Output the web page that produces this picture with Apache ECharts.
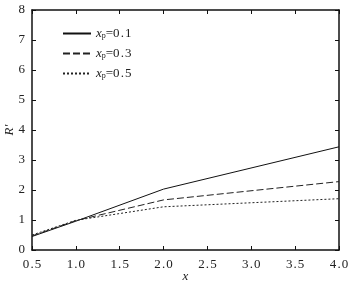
<!DOCTYPE html>
<html>
<head>
<meta charset="utf-8">
<script src="https://cdn.jsdelivr.net/npm/echarts@6/dist/echarts.min.js"></script>
<style>
  html, body { margin: 0; padding: 0; background: #fff; }
  #main { width: 348px; height: 282px; }
</style>
</head>
<body>
<div id="main"></div>
<script>
// data
const xValues = [0.5, 1.0, 2.0, 4.0]
const xp01 = [0.45, 0.96, 2.03, 3.44]
const xp03 = [0.47, 0.98, 1.67, 2.28]
const xp05 = [0.5, 0.99, 1.44, 1.71]
const seriesNames = ['0.1', '0.3', '0.5']

const font = '"Liberation Serif", "Times New Roman", serif'
const axisColor = '#111'
const spaced = s => s.split('').join('\u200a')

function pairs(ys) {
    return xValues.map((x, i) => [x, ys[i]])
}

function makeLine(name, ys, dash, color) {
    return {
        name: name,
        type: 'line',
        data: pairs(ys),
        showSymbol: false,
        symbol: 'none',
        lineStyle: { width: 1, color: color, type: dash },
        itemStyle: { color: color },
        animation: false
    }
}

// 边框四条轴
function boxAxis(extra) {
    return Object.assign({
        type: 'value',
        nameMoveOverlap: false,
        axisLine: { show: true, onZero: false, lineStyle: { color: axisColor, width: 1.5 } },
        axisTick: { show: true, inside: true, length: 4, lineStyle: { color: axisColor } },
        splitLine: { show: false }
    }, extra)
}

var myChart = echarts.init(document.getElementById('main'))

var option = {
    backgroundColor: '#fff',
    grid: { left: 32, right: 9, top: 10, bottom: 32, containLabel: false, outerBoundsMode: 'none' },
    legend: {
        orient: 'vertical',
        left: 57,
        top: 22,
        itemWidth: 28,
        itemHeight: 10,
        itemGap: 7,
        data: seriesNames,
        itemStyle: { opacity: 0 },
        formatter: function (name) {
            return '{i|x}{s|p}{t|=' + spaced(name) + '}'
        },
        textStyle: {
            fontFamily: font,
            color: '#222',
            rich: {
                i: { fontFamily: font, fontStyle: 'italic', fontSize: 13, color: '#222' },
                s: { fontFamily: font, fontSize: 8, color: '#222', verticalAlign: 'bottom', padding: [5, 0, 0, 0] },
                t: { fontFamily: font, fontSize: 13, color: '#222' }
            }
        }
    },
    xAxis: [
        boxAxis({
            min: 0.5, max: 4.0, interval: 0.5,
            name: 'x',
            nameLocation: 'middle',
            nameGap: 20,
            nameTextStyle: { fontFamily: font, fontStyle: 'italic', fontSize: 13, color: '#222' },
            axisLabel: {
                fontFamily: font, fontSize: 13, color: '#222', margin: 8,
                formatter: v => spaced(v.toFixed(1))
            }
        }),
        boxAxis({
            position: 'top',
            min: 0.5, max: 4.0, interval: 0.5,
            axisLabel: { show: false }
        })
    ],
    yAxis: [
        boxAxis({
            min: 0, max: 8, interval: 1,
            name: 'R\u2032',
            nameLocation: 'middle',
            nameRotate: 90,
            nameGap: 16,
            nameTextStyle: { fontFamily: font, fontStyle: 'italic', fontSize: 13, color: '#222' },
            axisLabel: { fontFamily: font, fontSize: 13, color: '#222', margin: 7 }
        }),
        boxAxis({
            position: 'right',
            min: 0, max: 8, interval: 1,
            axisLabel: { show: false }
        })
    ],
    series: [
        makeLine(seriesNames[0], xp01, 'solid', '#111'),
        makeLine(seriesNames[1], xp03, [7, 3], '#222'),
        makeLine(seriesNames[2], xp05, [2, 2], '#222')
    ]
}

myChart.setOption(option)
</script>
</body>
</html>
